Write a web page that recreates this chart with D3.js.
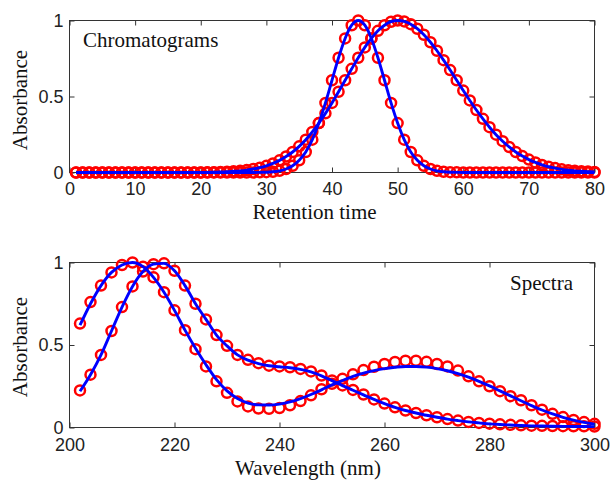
<!DOCTYPE html>
<html>
<head>
<meta charset="utf-8">
<script src="https://cdn.jsdelivr.net/npm/d3@7"></script>
<style>
  html, body { margin: 0; padding: 0; background: #fff; }
  svg { display: block; }
  .tick text { font-family: "Liberation Sans", Arial, Helvetica, sans-serif; font-size: 18px; fill: #222; }
  .tick line { stroke: #333; stroke-width: 1; }
  .label { font-family: "Liberation Serif", "Times New Roman", Times, serif; font-size: 21px; fill: #111; }
</style>
</head>
<body>
<svg id="chart" width="611" height="488"></svg>
<script>
// Retention-time grid (min) and the two eluting component profiles
const retentionTimes = d3.range(1, 81);
const chromatogramNarrow = [
  0, 0, 0, 0, 0, 0, 0, 0, 0, 0,
  0, 0, 0, 0, 0, 0, 0, 0, 0, 0,
  0, 0, 0, 0, 0, 0, 0, 0, 0.001, 0.002,
  0.005, 0.011, 0.023, 0.044, 0.080, 0.135, 0.216, 0.325, 0.458, 0.607,
  0.755, 0.882, 0.969, 1.000, 0.969, 0.882, 0.755, 0.607, 0.458, 0.325,
  0.216, 0.135, 0.080, 0.044, 0.023, 0.011, 0.005, 0.002, 0.001, 0,
  0, 0, 0, 0, 0, 0, 0, 0, 0, 0,
  0, 0, 0, 0, 0, 0, 0, 0, 0, 0
];
const chromatogramWide = [
  0, 0, 0, 0, 0, 0, 0, 0, 0, 0,
  0, 0, 0, 0, 0, 0, 0, 0, 0, 0,
  0.001, 0.002, 0.003, 0.005, 0.008, 0.011, 0.016, 0.023, 0.032, 0.044,
  0.060, 0.080, 0.105, 0.135, 0.172, 0.216, 0.267, 0.325, 0.389, 0.458,
  0.531, 0.607, 0.682, 0.755, 0.823, 0.882, 0.932, 0.969, 0.992, 1.000,
  0.994, 0.976, 0.946, 0.906, 0.857, 0.801, 0.739, 0.674, 0.607, 0.539,
  0.474, 0.411, 0.353, 0.298, 0.249, 0.206, 0.168, 0.135, 0.108, 0.085,
  0.066, 0.050, 0.038, 0.029, 0.021, 0.015, 0.011, 0.008, 0.006, 0.004
];

// Wavelength grid (nm) with measured (circles) and resolved (lines) spectra
const wavelengths = d3.range(202, 301, 2);
const spectrum1Measured = [
  0.63, 0.76, 0.86, 0.94, 0.985, 1.0, 0.975, 0.91, 0.82, 0.71,
  0.59, 0.475, 0.37, 0.28, 0.21, 0.158, 0.128, 0.115, 0.113, 0.118,
  0.135, 0.16, 0.195, 0.232, 0.265, 0.295, 0.322, 0.348, 0.368, 0.385,
  0.397, 0.405, 0.405, 0.398, 0.385, 0.37, 0.345, 0.31, 0.28, 0.25,
  0.22, 0.19, 0.165, 0.135, 0.108, 0.083, 0.063, 0.046, 0.033, 0.022
];
const spectrum1Resolved = [
  0.62, 0.75, 0.86, 0.94, 0.985, 1.0, 0.975, 0.91, 0.82, 0.71,
  0.59, 0.48, 0.38, 0.29, 0.222, 0.176, 0.148, 0.137, 0.136, 0.142,
  0.155, 0.175, 0.2, 0.228, 0.258, 0.285, 0.31, 0.33, 0.345, 0.357,
  0.365, 0.37, 0.37, 0.366, 0.357, 0.344, 0.327, 0.305, 0.28, 0.252,
  0.222, 0.192, 0.162, 0.133, 0.106, 0.082, 0.062, 0.045, 0.031, 0.02
];
const spectrum2Measured = [
  0.225, 0.32, 0.44, 0.585, 0.73, 0.855, 0.945, 0.99, 0.995, 0.95,
  0.86, 0.75, 0.655, 0.56, 0.495, 0.44, 0.41, 0.39, 0.375, 0.37,
  0.365, 0.355, 0.34, 0.315, 0.285, 0.255, 0.228, 0.2, 0.17, 0.145,
  0.122, 0.103, 0.088, 0.074, 0.062, 0.051, 0.042, 0.034, 0.028, 0.023,
  0.019, 0.016, 0.013, 0.011, 0.01, 0.009, 0.008, 0.007, 0.007, 0.006
];
const spectrum2Resolved = [
  0.22, 0.32, 0.44, 0.585, 0.73, 0.855, 0.945, 0.99, 0.995, 0.95,
  0.86, 0.75, 0.655, 0.56, 0.495, 0.44, 0.408, 0.387, 0.374, 0.368,
  0.362, 0.352, 0.337, 0.313, 0.284, 0.254, 0.226, 0.198, 0.17, 0.145,
  0.122, 0.103, 0.088, 0.074, 0.062, 0.051, 0.042, 0.034, 0.028, 0.022,
  0.018, 0.015, 0.012, 0.01, 0.009, 0.008, 0.007, 0.006, 0.006, 0.005
];

const chromTicks = [0, 10, 20, 30, 40, 50, 60, 70, 80];
const waveTicks = [200, 220, 240, 260, 280, 300];
const absTicks = [0, 0.5, 1];

const svg = d3.select("#chart");

function panel(opts) {
  const x = d3.scaleLinear().domain(opts.xDomain).range([69.5, 594.5]);
  const y = d3.scaleLinear().domain([0, 1]).range([opts.bottom, opts.top]);
  const g = svg.append("g");

  // inward ticks on all four sides (box style)
  g.append("g").attr("transform", `translate(0,${opts.bottom})`)
    .call(d3.axisBottom(x).tickValues(opts.xTicks).tickSizeInner(-5).tickSizeOuter(0).tickPadding(opts.labelPad)
      .tickFormat(d3.format("d")))
    .call(a => a.select(".domain").remove());
  g.append("g").attr("transform", `translate(0,${opts.top})`)
    .call(d3.axisTop(x).tickValues(opts.xTicks).tickSizeInner(-5).tickSizeOuter(0).tickFormat(""))
    .call(a => a.select(".domain").remove());
  g.append("g").attr("transform", `translate(69.5,0)`)
    .call(d3.axisLeft(y).tickValues(absTicks).tickSizeInner(-5).tickSizeOuter(0).tickPadding(6)
      .tickFormat(d => d === 0.5 ? "0.5" : String(d)))
    .call(a => a.select(".domain").remove());
  g.append("g").attr("transform", `translate(594.5,0)`)
    .call(d3.axisRight(y).tickValues(absTicks).tickSizeInner(-5).tickSizeOuter(0).tickFormat(""))
    .call(a => a.select(".domain").remove());

  g.append("rect")
    .attr("x", 69.5).attr("y", opts.top)
    .attr("width", 525).attr("height", opts.bottom - opts.top)
    .attr("fill", "none").attr("stroke", "#333").attr("stroke-width", 1);

  // measured data as open circles
  opts.series.forEach(s => {
    g.append("g").selectAll("circle")
      .data(opts.xValues.map((v, i) => [v, s.measured[i]]))
      .join("circle")
      .attr("cx", d => x(d[0])).attr("cy", d => y(d[1]))
      .attr("r", 5)
      .attr("fill", "none").attr("stroke", "#ff0000").attr("stroke-width", 2.5);
  });

  // resolved profiles as solid lines on top
  const line = d3.line().x(d => x(d[0])).y(d => y(d[1])).curve(d3.curveMonotoneX);
  opts.series.forEach(s => {
    g.append("path")
      .datum(opts.xValues.map((v, i) => [v, s.resolved[i]]))
      .attr("d", line)
      .attr("fill", "none").attr("stroke", "#0000ff").attr("stroke-width", 2.9)
      .attr("stroke-linejoin", "round");
  });

  return { x, y, g };
}

panel({
  xDomain: [0, 80], xTicks: chromTicks, top: 20.5, bottom: 172.5, labelPad: 9.5,
  xValues: retentionTimes,
  series: [
    { measured: chromatogramNarrow, resolved: chromatogramNarrow },
    { measured: chromatogramWide, resolved: chromatogramWide }
  ]
});

panel({
  xDomain: [200, 300], xTicks: waveTicks, top: 262.5, bottom: 427.5, labelPad: 10.5,
  xValues: wavelengths,
  series: [
    { measured: spectrum1Measured, resolved: spectrum1Resolved },
    { measured: spectrum2Measured, resolved: spectrum2Resolved }
  ]
});

// titles and axis labels
svg.append("text").attr("class", "label").attr("x", 83).attr("y", 47).text("Chromatograms");
svg.append("text").attr("class", "label").attr("x", 573).attr("y", 290)
  .attr("text-anchor", "end").text("Spectra");
svg.append("text").attr("class", "label").attr("x", 314.5).attr("y", 219)
  .attr("text-anchor", "middle").text("Retention time");
svg.append("text").attr("class", "label").attr("x", 308).attr("y", 475)
  .attr("text-anchor", "middle").text("Wavelength (nm)");
svg.append("text").attr("class", "label").attr("text-anchor", "middle")
  .attr("transform", "translate(27,100) rotate(-90)").text("Absorbance");
svg.append("text").attr("class", "label").attr("text-anchor", "middle")
  .attr("transform", "translate(27,347) rotate(-90)").text("Absorbance");
</script>
</body>
</html>
